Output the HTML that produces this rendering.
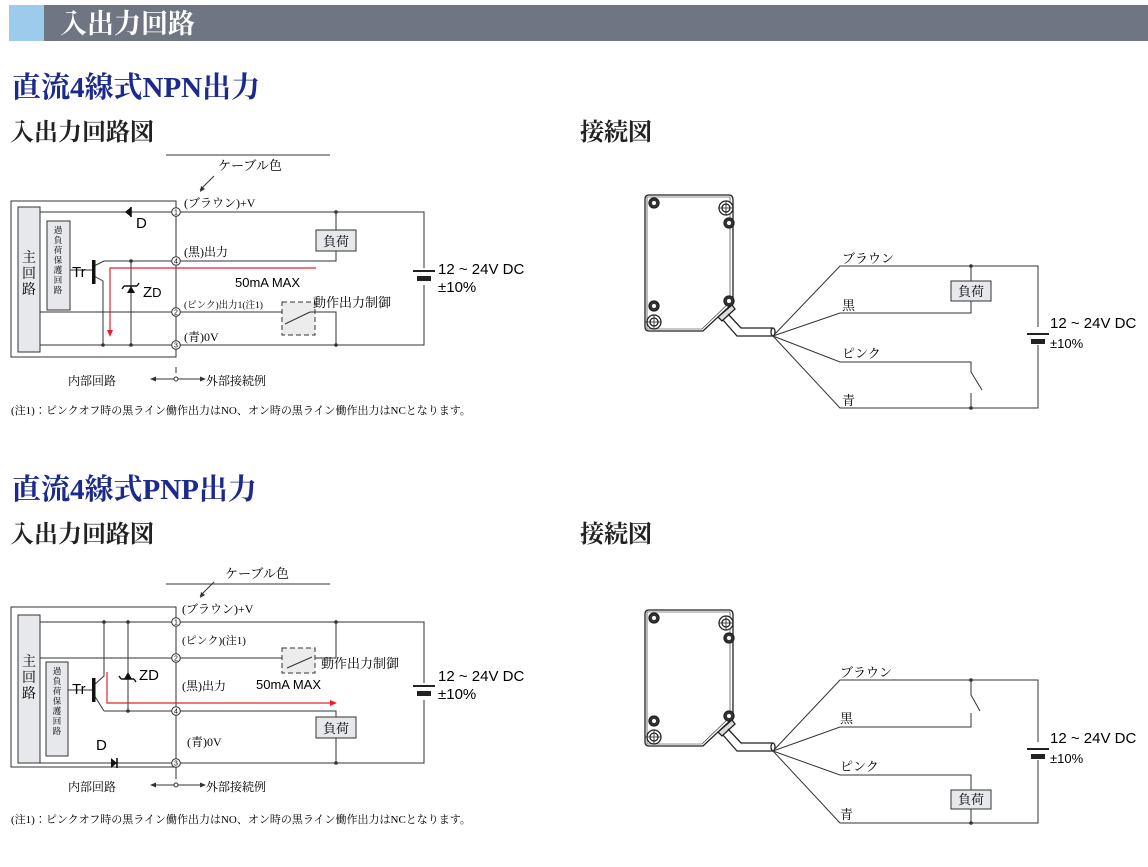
<!DOCTYPE html>
<html><head><meta charset="utf-8"><style>
html,body{margin:0;padding:0;background:#fff;}
svg{display:block;}
.s{font-family:"Liberation Serif","Noto Serif CJK JP","Noto Serif CJK SC",serif;}
.a{font-family:"Liberation Sans","Noto Sans CJK JP",sans-serif;}
</style></head><body>
<svg width="1148" height="867" viewBox="0 0 1148 867" xmlns="http://www.w3.org/2000/svg">
<defs>
<g id="sensor" fill="none" stroke="#222" stroke-width="1.3">
 <path d="M4 0 H84 Q88 0 88 5 V108 L58 136 H4 Q0 136 0 132 V4 Q0 0 4 0 Z"/>
 <path d="M2 2 H85 V107 L57 134 H2 Z" stroke-width="0.6"/>
 <circle cx="9" cy="8" r="5" fill="#333"/><circle cx="9" cy="8" r="2" fill="#fff" stroke="none"/>
 <circle cx="81" cy="13" r="7" fill="#fff"/><circle cx="81" cy="13" r="4"/><path d="M74 13h14M81 6v14" stroke-width="0.8"/>
 <circle cx="84" cy="28" r="5" fill="#333"/><circle cx="84" cy="28" r="2" fill="#fff" stroke="none"/>
 <circle cx="84" cy="106" r="5" fill="#333"/><circle cx="84" cy="106" r="2" fill="#fff" stroke="none"/>
 <circle cx="9" cy="111" r="5" fill="#333"/><circle cx="9" cy="111" r="2" fill="#fff" stroke="none"/>
 <circle cx="9" cy="127" r="7" fill="#fff"/><circle cx="9" cy="127" r="4"/><path d="M0 127h16M9 120v14" stroke-width="0.8"/>
 <path d="M73 122 L87 110 L90 114 L77 126 Z" fill="#ddd"/>
 <path d="M83 119 L96 133 H128 M78 125 L92 141 H128" />
 <ellipse cx="128" cy="137" rx="2" ry="4"/>
</g>
<g id="bat" stroke="#222" fill="#222"><rect x="-11" y="-1" width="22" height="2" stroke="none"/><rect x="-7" y="5" width="14" height="5" stroke="none"/></g>
</defs>

<rect x="9" y="5" width="1139" height="36" fill="#6f7582"/>
<rect x="9" y="5" width="35" height="36" fill="#9ccbeb"/>
<text x="60" y="33" class="s" font-size="27" fill="#fff" font-weight="bold">入出力回路</text>

<text x="12" y="97" class="s" font-size="29" fill="#1c2a8c" font-weight="bold">直流4線式NPN出力</text>
<text x="10" y="140" class="s" font-size="24" fill="#222" font-weight="bold">入出力回路図</text>
<text x="580" y="140" class="s" font-size="24" fill="#222" font-weight="bold">接続図</text>
<text x="12" y="499" class="s" font-size="29" fill="#1c2a8c" font-weight="bold">直流4線式PNP出力</text>
<text x="10" y="542" class="s" font-size="24" fill="#222" font-weight="bold">入出力回路図</text>
<text x="580" y="542" class="s" font-size="24" fill="#222" font-weight="bold">接続図</text>

<!-- NPN circuit -->
<g stroke="#333" stroke-width="1" fill="none">
 <rect x="11" y="201" width="165" height="156"/>
 <rect x="18" y="207" width="22" height="145" fill="#e6e8ec"/>
 <rect x="47" y="221" width="23" height="89" fill="#e6e8ec"/>
 <path d="M40 212 H172 M180 212 H424 V268 M424 285 V345 H180 M172 345 H40"/>
 <path d="M104 261 H172 M180 261 H336 V251 M336 212 V230"/>
 <path d="M40 312 H172 M180 312 H282 M312 312 H336 V345"/>
 <path d="M176 216 V257 M176 265 V308 M176 316 V341 M176 349 V357"/>
 <path d="M70 270 H93"/>
 <path d="M104 261 L94 266 M94 276 L103 281 V345"/>
 <path d="M131 261 V345"/>
 <path d="M166 155 H330 M214 176 L200 190" />
</g>
<path d="M200 192 l1 -6 l4 3 z" fill="#333"/>
<rect x="92" y="260" width="3.5" height="24" fill="#111"/>
<path d="M131 207 V217" stroke="#111" stroke-width="1.6"/><path d="M125 212 L131 207 V217 Z" fill="#111"/>
<text x="136" y="228" class="a" font-size="15">D</text>
<path d="M127 293 l4 -7 l4 7 z" fill="#111"/><path d="M124 286 h13 M124 286 l-2 3 M137 286 l2-3" stroke="#111" stroke-width="1.4"/>
<text x="143" y="297" class="a" font-size="15">Z<tspan font-size="13">D</tspan></text>
<text x="72" y="277" class="a" font-size="15">Tr</text>
<g fill="#333"><circle cx="131" cy="261" r="1.8"/><circle cx="131" cy="345" r="1.8"/><circle cx="103" cy="345" r="1.8"/><circle cx="336" cy="212" r="1.8"/><circle cx="336" cy="345" r="1.8"/></g>
<g stroke="#333" fill="#fff"><circle cx="176" cy="212" r="4.3"/><circle cx="176" cy="261" r="4.3"/><circle cx="176" cy="312" r="4.3"/><circle cx="176" cy="345" r="4.3"/></g>
<g class="a" font-size="7" text-anchor="middle"><text x="176" y="214.5">1</text><text x="176" y="263.5">4</text><text x="176" y="314.5">2</text><text x="176" y="347.5">3</text></g>
<rect x="316" y="230" width="40" height="21" fill="#e6e8ec" stroke="#333"/>
<text x="336" y="246" class="s" font-size="13" text-anchor="middle">負荷</text>
<rect x="282" y="302" width="33" height="33" fill="#ececec" stroke="#333" stroke-dasharray="5 3"/>
<path d="M285 324 L310 312 M310 312 H315" stroke="#333" fill="none"/>
<text x="313" y="307" class="s" font-size="13">動作出力制御</text>
<path d="M316 268 H110 V330" stroke="#e8202c" stroke-width="1.2" fill="none"/>
<path d="M107 330 h6 l-3 7 z" fill="#e8202c"/>
<text x="235" y="287" class="a" font-size="13">50mA MAX</text>
<use href="#bat" x="424" y="271"/>
<text x="438" y="274" class="a" font-size="15">12 ~ 24V DC</text>
<text x="438" y="292" class="a" font-size="15">±10%</text>
<text x="218" y="170" class="s" font-size="13">ケーブル色</text>
<text x="184" y="207" class="s" font-size="12">(ブラウン)+V</text>
<text x="184" y="256" class="s" font-size="12">(黒)出力</text>
<text x="184" y="308" class="s" font-size="9.5">(ピンク)出力1(注1)</text>
<text x="184" y="341" class="s" font-size="12">(青)0V</text>
<text x="68" y="385" class="s" font-size="12">内部回路</text>
<text x="206" y="385" class="s" font-size="12">外部接続例</text>
<path d="M176 367 V373 M156 379 H200" stroke="#333" fill="none"/><circle cx="176" cy="379" r="2" fill="#fff" stroke="#333"/>
<path d="M150 379 l6 -2.5 v5 z M206 379 l-6 -2.5 v5 z" fill="#333"/>
<text x="11" y="414" class="s" font-size="11">(注1)：ピンクオフ時の黒ライン働作出力はNO、オン時の黒ライン働作出力はNCとなります。</text>
<text x="29" y="262" class="s" font-size="14" text-anchor="middle">主</text><text x="29" y="278" class="s" font-size="14" text-anchor="middle">回</text><text x="29" y="294" class="s" font-size="14" text-anchor="middle">路</text>
<g class="s" font-size="8.5" text-anchor="middle"><text x="58" y="233">過</text><text x="58" y="243">負</text><text x="58" y="253">荷</text><text x="58" y="263">保</text><text x="58" y="273">護</text><text x="58" y="283">回</text><text x="58" y="293">路</text></g>

<!-- PNP circuit -->
<g stroke="#333" stroke-width="1" fill="none">
 <rect x="11" y="607" width="165" height="160"/>
 <rect x="18" y="615" width="22" height="148" fill="#e6e8ec"/>
 <rect x="46" y="662" width="22" height="94" fill="#e6e8ec"/>
 <path d="M40 622 H172 M180 622 H424 V683 M424 700 V763 H180 M172 763 H40"/>
 <path d="M40 658 H172 M180 658 H282 M312 658 H336 V622"/>
 <path d="M104 711 H172 M180 711 H336 V717 M336 735 V763"/>
 <path d="M176 626 V654 M176 662 V707 M176 715 V759 M176 767 V773"/>
 <path d="M68 690 H93"/>
 <path d="M104 622 V676 L94 685 M94 695 L104 711"/>
 <path d="M128 622 V711"/>
 <path d="M166 584 H330 M214 582 L200 596"/>
</g>
<path d="M200 598 l1 -6 l4 3 z" fill="#333"/>
<rect x="92" y="678" width="3.5" height="24" fill="#111"/>
<path d="M117 758 V768" stroke="#111" stroke-width="1.6"/><path d="M111 758 L117 763 L111 768 Z" fill="#111"/>
<text x="96" y="750" class="a" font-size="15">D</text>
<path d="M124 679 l4 -7 l4 7 z" fill="#111"/><path d="M121 679 h13 M121 679 l-2 -3 M134 679 l2 3" stroke="#111" stroke-width="1.4"/>
<text x="139" y="680" class="a" font-size="15">ZD</text>
<text x="72" y="694" class="a" font-size="15">Tr</text>
<g fill="#333"><circle cx="104" cy="622" r="1.8"/><circle cx="128" cy="622" r="1.8"/><circle cx="128" cy="711" r="1.8"/><circle cx="336" cy="622" r="1.8"/><circle cx="336" cy="763" r="1.8"/></g>
<g stroke="#333" fill="#fff"><circle cx="176" cy="622" r="4.3"/><circle cx="176" cy="658" r="4.3"/><circle cx="176" cy="711" r="4.3"/><circle cx="176" cy="763" r="4.3"/></g>
<g class="a" font-size="7" text-anchor="middle"><text x="176" y="624.5">1</text><text x="176" y="660.5">2</text><text x="176" y="713.5">4</text><text x="176" y="765.5">3</text></g>
<rect x="316" y="717" width="40" height="21" fill="#e6e8ec" stroke="#333"/>
<text x="336" y="733" class="s" font-size="13" text-anchor="middle">負荷</text>
<rect x="282" y="648" width="33" height="25" fill="#ececec" stroke="#333" stroke-dasharray="5 3"/>
<path d="M287 668 L312 657" stroke="#333"/>
<text x="321" y="668" class="s" font-size="13">動作出力制御</text>
<path d="M107 672 V703 H330" stroke="#e8202c" stroke-width="1.2" fill="none"/>
<path d="M330 700 v6 l7 -3 z" fill="#e8202c"/>
<text x="256" y="689" class="a" font-size="13">50mA MAX</text>
<use href="#bat" x="424" y="686"/>
<text x="438" y="681" class="a" font-size="15">12 ~ 24V DC</text>
<text x="438" y="699" class="a" font-size="15">±10%</text>
<text x="225" y="578" class="s" font-size="13">ケーブル色</text>
<text x="182" y="613" class="s" font-size="12">(ブラウン)+V</text>
<text x="182" y="644" class="s" font-size="11">(ピンク)(注1)</text>
<text x="182" y="690" class="s" font-size="12">(黒)出力</text>
<text x="187" y="746" class="s" font-size="12">(青)0V</text>
<text x="68" y="791" class="s" font-size="12">内部回路</text>
<text x="206" y="791" class="s" font-size="12">外部接続例</text>
<path d="M176 773 V779 M156 785 H200" stroke="#333" fill="none"/><circle cx="176" cy="785" r="2" fill="#fff" stroke="#333"/>
<path d="M150 785 l6 -2.5 v5 z M206 785 l-6 -2.5 v5 z" fill="#333"/>
<text x="11" y="823" class="s" font-size="11">(注1)：ピンクオフ時の黒ライン働作出力はNO、オン時の黒ライン働作出力はNCとなります。</text>
<text x="29" y="666" class="s" font-size="14" text-anchor="middle">主</text><text x="29" y="682" class="s" font-size="14" text-anchor="middle">回</text><text x="29" y="698" class="s" font-size="14" text-anchor="middle">路</text>
<g class="s" font-size="8.5" text-anchor="middle"><text x="57" y="674">過</text><text x="57" y="684">負</text><text x="57" y="694">荷</text><text x="57" y="704">保</text><text x="57" y="714">護</text><text x="57" y="724">回</text><text x="57" y="734">路</text></g>

<!-- NPN connection -->
<use href="#sensor" x="645" y="195"/>
<g stroke="#333" fill="none" stroke-width="1">
 <path d="M773 336 L840 266 H1038 V327 M1038 345 V408 H840 L773 336"/>
 <path d="M773 336 L840 313 H971 V301 M971 266 V281"/>
 <path d="M773 336 L840 362 H971 V372 L982 390 M971 393 V408"/>
</g>
<g fill="#333"><circle cx="971" cy="266" r="1.8"/><circle cx="971" cy="408" r="1.8"/></g>
<rect x="951" y="281" width="40" height="20" fill="#e6e8ec" stroke="#333"/>
<text x="971" y="296" class="s" font-size="13" text-anchor="middle">負荷</text>
<use href="#bat" x="1038" y="334"/>
<text x="1050" y="328" class="a" font-size="15">12 ~ 24V DC</text>
<text x="1050" y="348" class="a" font-size="13">±10%</text>
<g class="s" font-size="13"><text x="842" y="263">ブラウン</text><text x="842" y="310">黒</text><text x="842" y="358">ピンク</text><text x="842" y="405">青</text></g>

<!-- PNP connection -->
<use href="#sensor" x="645" y="610"/>
<g stroke="#333" fill="none" stroke-width="1">
 <path d="M773 751 L840 680 H1038 V742 M1038 760 V823 H840 L773 751"/>
 <path d="M773 751 L840 727 H971 V713 M971 680 V695 L980 711"/>
 <path d="M773 751 L840 775 H971 V790 M971 808 V823"/>
</g>
<g fill="#333"><circle cx="971" cy="680" r="1.8"/><circle cx="971" cy="823" r="1.8"/></g>
<rect x="951" y="790" width="40" height="19" fill="#e6e8ec" stroke="#333"/>
<text x="971" y="804" class="s" font-size="13" text-anchor="middle">負荷</text>
<use href="#bat" x="1038" y="749"/>
<text x="1050" y="743" class="a" font-size="15">12 ~ 24V DC</text>
<text x="1050" y="763" class="a" font-size="13">±10%</text>
<g class="s" font-size="13"><text x="840" y="677">ブラウン</text><text x="840" y="723">黒</text><text x="840" y="771">ピンク</text><text x="840" y="819">青</text></g>
</svg>
</body></html>
